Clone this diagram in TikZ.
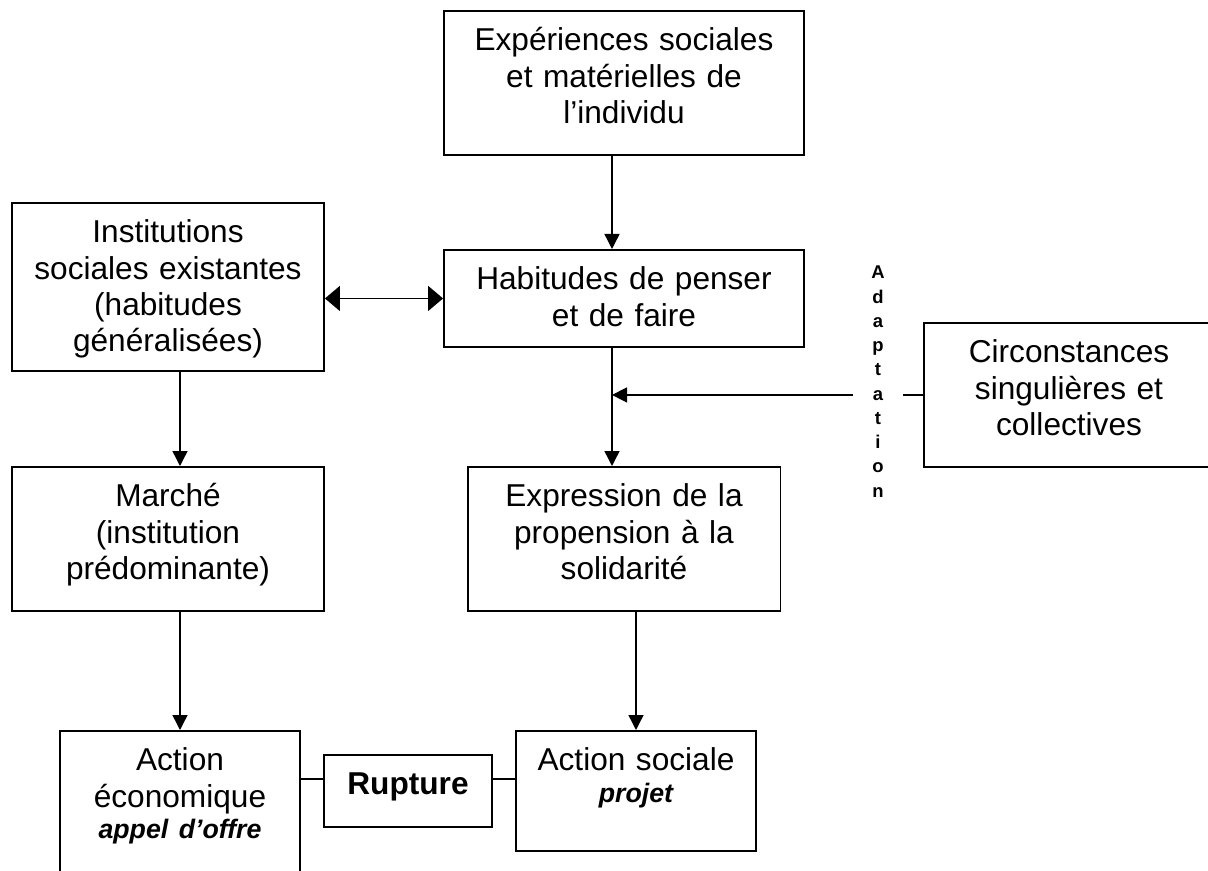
\documentclass[tikz,border=0pt]{standalone}
\usepackage{fontspec}
\setmainfont{Liberation Sans}
\usetikzlibrary{arrows.meta}
\tikzset{
  boite/.style 2 args={draw, line width=1.1pt, inner sep=0pt, anchor=north, align=center, text height=0.8cm, text width=#1, text depth=#2},
  fleche/.style={-{Triangle[length=0.3cm,width=0.3cm]}, line width=0.8pt},
  doublefleche/.style={{Triangle[length=0.3cm,width=0.5cm]}-{Triangle[length=0.3cm,width=0.5cm]}, line width=0.8pt},
  lien/.style={line width=0.8pt}
}
\newcommand{\mot}[1]{{\fontsize{15.2}{17.6}\selectfont\bfseries\itshape #1}}

\begin{document}
\begin{tikzpicture}[x=0.02cm, y=-0.02cm, font=\fontsize{18}{20.6}\selectfont]
\useasboundingbox (0,0) rectangle (1208,871);
% draw the boxes
\node[boite={7.2cm}{2.08cm}] (exp) at (624,10) {Expériences sociales\\et matérielles de\\l’individu};
\node[boite={7.2cm}{1.14cm}] (hab) at (624,249) {Habitudes de penser\\et de faire};
\node[boite={6.24cm}{2.56cm}] (inst) at (168,202) {Institutions\\sociales existantes\\(habitudes\\généralisées)};
\node[boite={5.8cm}{2.08cm}] (circ) at (1069,322) {Circonstances\\singulières et\\collectives};
\node[boite={6.24cm}{2.08cm}] (marche) at (168,466) {Marché\\(institution\\prédominante)};
\node[boite={6.26cm}{2.08cm}] (expr) at (624,466) {Expression de la\\propension à la\\solidarité};
\node[boite={4.8cm}{2.4cm}] (acteco) at (180,730) {Action\\économique\\[-2.8pt]\mot{appel d’offre}};
\node[boite={3.36cm}{0.64cm}, font=\fontsize{18}{20.6}\selectfont\bfseries] (rupt) at (408,754) {Rupture};
\node[boite={4.8cm}{1.6cm}] (actsoc) at (636,730) {Action sociale\\[-2.8pt]\mot{projet}};
% vertical label
\node[text width=1cm, inner sep=0pt, align=center, anchor=base, font=\fontsize{10.5}{13.8}\selectfont\bfseries] (adapt) at (878,279) {A\\d\\a\\p\\t\\a\\t\\i\\o\\n};

% draw arrows
\draw[fleche] ([xshift=-0.24cm]exp.south) -- ([xshift=-0.24cm]hab.north);
\draw[doublefleche] (inst.east |- hab.west) -- (hab.west);
\draw[fleche] ([xshift=-0.24cm]hab.south) -- ([xshift=-0.24cm]expr.north);
\draw[lien] (circ.west) -- (adapt.east |- circ.west);
\draw[fleche] (adapt.west |- circ.west) -- ([xshift=-0.24cm]hab.south |- circ.west);
\draw[fleche] (inst.south -| acteco.north) -- (marche.north -| acteco.north);
\draw[fleche] (marche.south -| acteco.north) -- (acteco.north);
\draw[fleche] (expr.south -| actsoc.north) -- (actsoc.north);
% draw links to rupture
\draw[lien] ([yshift=0.24cm]rupt.west) -- ([yshift=0.24cm]rupt.west -| acteco.east);
\draw[lien] ([yshift=0.24cm]rupt.east) -- ([yshift=0.24cm]rupt.east -| actsoc.west);
\end{tikzpicture}
\end{document}
